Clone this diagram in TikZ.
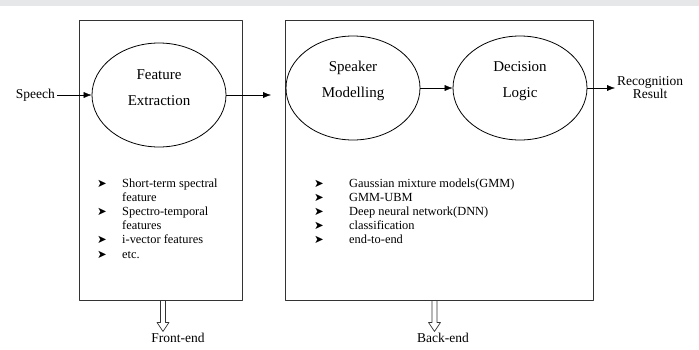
\documentclass[tikz,border=0pt]{standalone}
\usepackage{fontspec}
\setmainfont{Liberation Serif}
\newfontfamily\symfont{DejaVu Sans}
\usetikzlibrary{shapes.geometric,arrows.meta}
\definecolor{band}{HTML}{E6E7E9}
\newcommand{\bul}{{\symfont\fontsize{11.5}{11}\selectfont ➤}}

\begin{document}
\begin{tikzpicture}[x=1pt, y=-1pt, line join=round, >={Latex[length=8pt,width=6pt]},
	stage/.style={draw=black!80, line width=0.9pt, inner sep=0pt},
	proc/.style={draw, ellipse, line width=0.8pt, minimum width=134pt, minimum height=104pt, inner sep=0pt},
	proctext/.style={align=center, font=\fontsize{15}{26}\selectfont},
	lbl/.style={font=\fontsize{13.5}{13}\selectfont, inner sep=2pt},
	featlist/.style={anchor=north west, inner sep=0pt, font=\fontsize{12.4}{14.2}\selectfont},
	hollow/.style={draw=black!80, line width=0.7pt}]
	\useasboundingbox (0,0) rectangle (699,349);
	\fill[band] (0,0) rectangle (699,6);
	% front-end and back-end stages
	\node[stage, minimum width=163pt, minimum height=280pt] (front) at (160.5,160) {};
	\node[stage, minimum width=308pt, minimum height=280pt] (back) at (439,160) {};
	\node[proc] (fe) at (159,95) {};
	\node[proctext] at ([yshift=7pt]fe.center) {Feature\\Extraction};
	\node[proc] (sm) at (353,88) {};
	\node[proctext] at ([yshift=7pt]sm.center) {Speaker\\Modelling};
	\node[proc] (dl) at (520,88) {};
	\node[proctext] at ([yshift=7pt]dl.center) {Decision\\Logic};
	% input and output
	\node[lbl, anchor=east] (speech) at (57,95) {Speech};
	\node[lbl, anchor=west, align=center] (result) at (615,88) {Recognition\\Result};
	\coordinate (feout) at (271,95);
	\draw[->] (speech.east) -- (fe.west);
	\draw[->] (fe.east) -- (feout);
	\draw[->] (sm.east) -- (dl.west);
	\draw[->] (dl.east) -- (result.west);
	% lists of methods
	\node[featlist] (felist) at (97,177) {\begin{tabular}{@{}p{25pt}@{}l@{}}
		\bul & Short-term spectral\\
		     & feature\\
		\bul & Spectro-temporal\\
		     & features\\
		\bul & i-vector features\\
		\bul & etc.
	\end{tabular}};
	\node[featlist] (belist) at (314,177) {\begin{tabular}{@{}p{35pt}@{}l@{}}
		\bul & Gaussian mixture models(GMM)\\
		\bul & GMM-UBM\\
		\bul & Deep neural network(DNN)\\
		\bul & classification\\
		\bul & end-to-end
	\end{tabular}};
	% stage names
	\node[lbl] (frontlbl) at (178,338) {Front-end};
	\node[lbl] (backlbl) at (443,338) {Back-end};
	\draw[hollow] ([xshift=2.5pt]front.south) ++(-2.5,0) -- ++(0,22) -- ++(-3.5,0) -- ++(6,9) -- ++(6,-9) -- ++(-3.5,0) -- ++(0,-22);
	\draw[hollow] ([xshift=-4.5pt]back.south) ++(-2.5,0) -- ++(0,22) -- ++(-3.5,0) -- ++(6,9) -- ++(6,-9) -- ++(-3.5,0) -- ++(0,-22);
\end{tikzpicture}
\end{document}
